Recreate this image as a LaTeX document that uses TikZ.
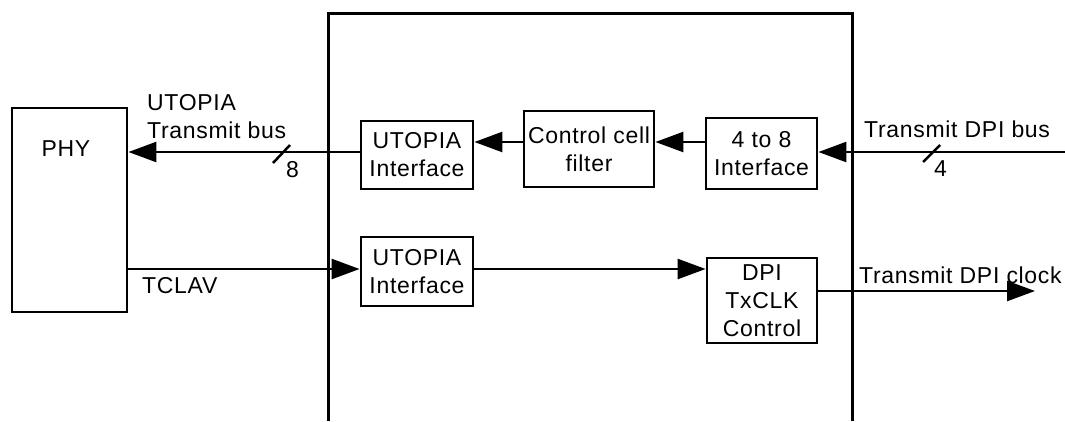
\documentclass[tikz,border=0pt]{standalone}
\usepackage{fontspec}
\setmainfont{Liberation Sans}[LetterSpace=3]
\usetikzlibrary{arrows.meta}
\tikzset{
  box/.style={draw, line width=2.8pt, inner sep=0pt, align=center},
  conn/.style={line width=2.5pt},
  arr/.style={conn, -{Triangle[length=28pt,width=20pt]}},
  lbl/.style={inner sep=0pt, align=left},
}
\begin{document}
\begin{tikzpicture}[x=1pt,y=-1pt,font=\fontsize{23}{28}\selectfont]
\useasboundingbox (0,0) rectangle (1065,421);
% main block
\draw[line width=3pt] (328,421) -- (328,13) -- (852,13) -- (852,421);
% boxes
\node[box, minimum width=115pt, minimum height=204pt] (phy) at (69.5,210) {};
\node[lbl] (phytext) at (66,149) {PHY};
\node[box, minimum width=112pt, minimum height=68pt] (ut1) at (417,155) {UTOPIA\\Interface};
\node[box, minimum width=130pt, minimum height=76pt] (ctrl) at (589,149) {Control cell\\filter};
\node[box, minimum width=111pt, minimum height=71pt] (i48) at (761.5,153.5) {4 to 8\\Interface};
\node[box, minimum width=112pt, minimum height=69pt] (ut2) at (417,271.5) {UTOPIA\\Interface};
\node[box, minimum width=110pt, minimum height=85pt] (dpi) at (762,300.5) {DPI\\TxCLK\\Control};
% levels
\coordinate (ya) at (0,142);
\coordinate (yb) at (0,152);
\coordinate (yc) at (0,269);
\coordinate (yd) at (0,291);
\coordinate (inbus) at (1065,152);
\coordinate (outclk) at (1035,291);
% connectors
\draw[arr] (ut1.west |- yb) -- (phy.east |- yb);
\draw[arr] (ctrl.west |- ya) -- (ut1.east |- ya);
\draw[arr] (i48.west |- ya) -- (ctrl.east |- ya);
\draw[arr] (inbus) -- (i48.east |- yb);
\draw[arr] (phy.east |- yc) -- (ut2.west |- yc);
\draw[arr] (ut2.east |- yc) -- (dpi.west |- yc);
\draw[arr] (dpi.east |- yd) -- (outclk);
% bus width marks
\draw[conn] (273,163) -- (290,145);
\draw[conn] (923,162) -- (940,145);
% labels
\node[lbl, anchor=base west] (lutopia) at (147,110) {UTOPIA};
\node[lbl, anchor=base west] (ltxbus) at (147,138) {Transmit bus};
\node[lbl, anchor=base west] (l8) at (286,177) {8};
\node[lbl, anchor=base west] (ltclav) at (142,293) {TCLAV};
\node[lbl, anchor=base west] (ldpibus) at (864,137) {Transmit DPI bus};
\node[lbl, anchor=base west] (l4) at (934,176) {4};
\node[lbl, anchor=base west] (ldpiclk) at (859,283) {Transmit DPI clock};
\end{tikzpicture}
\end{document}
